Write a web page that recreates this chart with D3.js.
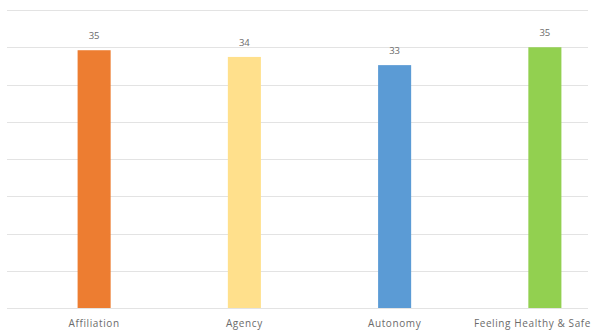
<!DOCTYPE html>
<html>
<head>
<meta charset="utf-8">
<script src="https://cdn.jsdelivr.net/npm/d3@7"></script>
<style>
  body { margin: 0; background: #fff; }
  text { font-family: "Open Sans", Lato, sans-serif; }
</style>
</head>
<body>
<div id="chart"></div>
<script>
// Data
const categories = ["Affiliation", "Agency", "Autonomy", "Feeling Healthy & Safe"];
const values = [34.6, 33.7, 32.6, 35.0];
const barColours = ["#ED7D31", "#FFE08C", "#5B9BD5", "#92D050"];
const gridTicks = [0, 5, 10, 15, 20, 25, 30, 35, 40];

const width = 595, height = 336;

const svg = d3.select("#chart")
    .append("svg")
    .attr("width", width)
    .attr("height", height);

// Scales
const xScale = d3.scaleBand()
    .domain(categories)
    .range([19, 620])
    .paddingInner(0.78)
    .paddingOuter(0.39);

const yScale = d3.scaleLinear()
    .domain([0, 40])
    .range([308, 10]);

// Gridlines
svg.append("g")
    .selectAll("line")
    .data(gridTicks)
    .enter()
    .append("line")
    .attr("x1", 7)
    .attr("x2", 588)
    .attr("y1", d => Math.round(yScale(d)) + 0.5)
    .attr("y2", d => Math.round(yScale(d)) + 0.5)
    .attr("stroke", "#e3e3e3")
    .attr("stroke-width", 1.2);

// Bars
svg.selectAll(".bar")
    .data(values)
    .enter()
    .append("rect")
    .attr("class", "bar")
    .attr("x", (d, i) => xScale(categories[i]))
    .attr("y", d => yScale(d))
    .attr("width", xScale.bandwidth())
    .attr("height", d => yScale(0) - yScale(d))
    .attr("fill", (d, i) => barColours[i]);

// Value labels
svg.selectAll(".value")
    .data(values)
    .enter()
    .append("text")
    .attr("class", "value")
    .attr("x", (d, i) => xScale(categories[i]) + xScale.bandwidth() / 2)
    .attr("y", d => yScale(d) - 11)
    .attr("text-anchor", "middle")
    .style("font-size", "9.5px")
    .style("fill", "#6b6b6b")
    .text(d => Math.round(d));

// Category labels
const xAxis = d3.axisBottom(xScale).tickSize(0).tickPadding(12);
const axisG = svg.append("g")
    .attr("transform", `translate(0,${yScale(0)})`)
    .call(xAxis);
axisG.select(".domain").remove();
axisG.selectAll("text")
    .style("font-size", "10px")
    .style("letter-spacing", "0.6px")
    .style("font-family", "'Open Sans', Lato, sans-serif")
    .style("fill", "#6b6b6b")
    .each(function (d) {
        // keep labels inside the picture, like the spreadsheet does
        const centre = xScale(d) + xScale.bandwidth() / 2;
        const half = this.getComputedTextLength() / 2;
        const overflow = centre + half - 591;
        if (overflow > 0) d3.select(this).attr("x", -overflow);
    });
</script>
</body>
</html>
